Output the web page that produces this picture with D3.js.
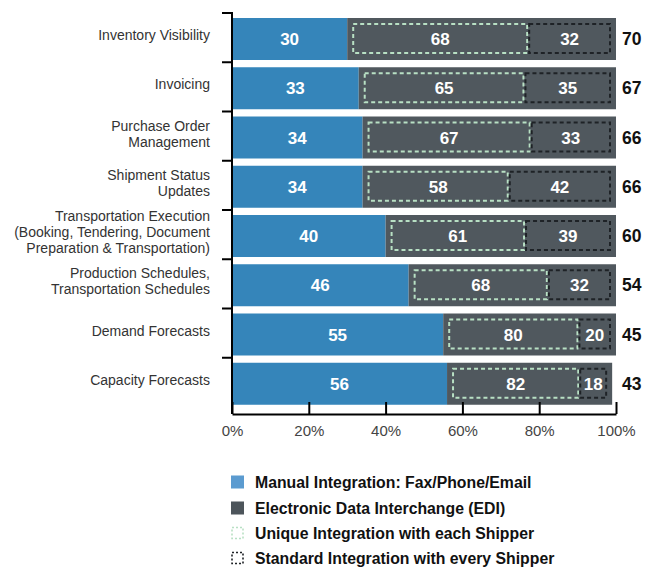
<!DOCTYPE html>
<html><head><meta charset="utf-8">
<script src="https://cdn.jsdelivr.net/npm/d3@7"></script>
<style>
html,body{margin:0;padding:0;background:#fff;}
svg{display:block;font-family:"Liberation Sans",Arial,sans-serif;}
</style></head>
<body>
<svg id="chart" width="654" height="568"></svg>
<script>
const categories = [
  ["Inventory Visibility"],
  ["Invoicing"],
  ["Purchase Order","Management"],
  ["Shipment Status","Updates"],
  ["Transportation Execution","(Booking, Tendering, Document","Preparation & Transportation)"],
  ["Production Schedules,","Transportation Schedules"],
  ["Demand Forecasts"],
  ["Capacity Forecasts"]
];
const manual   = [30,33,34,34,40,46,55,56];
const edi      = [70,67,66,66,60,54,45,43];
const unique   = [68,65,67,58,61,68,80,82];
const standard = [32,35,33,42,39,32,20,18];
const xTicks = [0,20,40,60,80,100];
const legendLabels = [
  "Manual Integration: Fax/Phone/Email",
  "Electronic Data Interchange (EDI)",
  "Unique Integration with each Shipper",
  "Standard Integration with every Shipper"
];

const svg = d3.select("#chart");
const x = d3.scaleLinear().domain([0,100]).range([232,616]);
const y = d3.scaleBand().domain(d3.range(categories.length)).range([13, 13+8*49.25]).paddingInner(0).paddingOuter(0);
const axisBottomY = 414;
const BLUE = "#3585ba", GRAY = "#50585e";
const barTop = i => y(i) + 5, barH = 42;

const rows = svg.append("g").selectAll("g").data(d3.range(categories.length)).join("g");

// manual bars
rows.append("rect").attr("x", x(0)).attr("y", barTop).attr("height", barH)
  .attr("width", i => x(manual[i]) - x(0)).attr("fill", BLUE);
// EDI bars
rows.append("rect").attr("x", i => x(manual[i])).attr("y", barTop).attr("height", barH)
  .attr("width", i => x(manual[i]+edi[i]) - x(manual[i])).attr("fill", GRAY);

// dashed boxes
function boxGeom(i){
  const s = x(manual[i]) + 5, e = x(manual[i]+edi[i]) - 5;
  const split = s + (e - s) * unique[i] / (unique[i] + standard[i]);
  return {s, e, split};
}
rows.append("rect")
  .attr("x", i => boxGeom(i).s + 1).attr("y", i => barTop(i) + 6)
  .attr("width", i => boxGeom(i).split - 1 - boxGeom(i).s - 1).attr("height", barH - 13)
  .attr("fill", "none").attr("stroke", "#b8e0c4").attr("stroke-width", 2).attr("stroke-dasharray", "4,3");
rows.append("rect")
  .attr("x", i => boxGeom(i).split + 1).attr("y", i => barTop(i) + 6)
  .attr("width", i => boxGeom(i).e - 1 - boxGeom(i).split - 1).attr("height", barH - 13)
  .attr("fill", "none").attr("stroke", "#1e2226").attr("stroke-width", 2).attr("stroke-dasharray", "4,3");

// value labels
const valStyle = sel => sel.attr("fill", "#fff").attr("font-weight", "bold").attr("font-size", 17).attr("text-anchor", "middle");
rows.append("text").call(valStyle)
  .attr("x", i => (x(0) + x(manual[i]))/2).attr("y", i => barTop(i) + barH/2 + 6).text(i => manual[i]);
rows.append("text").call(valStyle)
  .attr("x", i => (boxGeom(i).s + boxGeom(i).split)/2).attr("y", i => barTop(i) + barH/2 + 6).text(i => unique[i]);
rows.append("text").call(valStyle)
  .attr("x", i => (boxGeom(i).split + boxGeom(i).e)/2).attr("y", i => barTop(i) + barH/2 + 6).text(i => standard[i]);
// EDI totals
rows.append("text").attr("fill", "#111").attr("font-weight", "bold").attr("font-size", 17.5)
  .attr("x", 622).attr("y", i => barTop(i) + barH/2 + 6).text(i => edi[i]);

// category labels
rows.each(function(i){
  const lines = categories[i];
  const cy = y(i) + y.bandwidth()/2 - 2.5;
  const t = d3.select(this).append("text").attr("text-anchor", "end").attr("fill", "#333")
    .attr("font-size", 14);
  lines.forEach((ln, k) => {
    t.append("tspan").attr("x", 210).attr("y", cy + 5 - (lines.length-1)*8 + k*16).text(ln);
  });
});

// y axis
const yAxis = svg.append("g");
yAxis.append("line").attr("x1", x(0)).attr("x2", x(0)).attr("y1", 12).attr("y2", axisBottomY)
  .attr("stroke", "#000").attr("stroke-width", 2);
yAxis.selectAll("line.tick").data(d3.range(categories.length)).join("line").attr("class","tick")
  .attr("x1", x(0) - 10).attr("x2", x(0)).attr("y1", i => y(i)).attr("y2", i => y(i))
  .attr("stroke", "#000").attr("stroke-width", 2);

// x axis
const xAxis = svg.append("g").attr("transform", `translate(0,${axisBottomY})`)
  .call(d3.axisBottom(x).tickValues(xTicks).tickFormat(d => d + "%").tickSize(-12).tickSizeOuter(0).tickPadding(11));
xAxis.select(".domain").attr("stroke", "#000").attr("stroke-width", 2);
xAxis.selectAll(".tick line").attr("stroke", "#000").attr("stroke-width", 2);
xAxis.selectAll(".tick text").attr("font-size", 15).attr("fill", "#444")
  .attr("font-family", "Liberation Sans, Arial, sans-serif");

// legend
const legendY = [482, 508, 533, 558];
const lg = svg.append("g").selectAll("g").data(legendLabels).join("g")
  .attr("transform", (d,i) => `translate(231,${legendY[i]})`);
lg.each(function(d,i){
  const g = d3.select(this);
  if (i === 0) g.append("rect").attr("x",0).attr("y",-6.5).attr("width",13).attr("height",13).attr("fill","#5b9bd0");
  else if (i === 1) g.append("rect").attr("x",0).attr("y",-6.5).attr("width",13).attr("height",13).attr("fill","#4d555b");
  else g.append("rect").attr("x",1).attr("y",-5.5).attr("width",11).attr("height",11).attr("fill","none")
      .attr("stroke", i === 2 ? "#b8e0c4" : "#1e2226").attr("stroke-width", 1.6).attr("stroke-dasharray", "2,2");
  g.append("text").attr("x", 24).attr("y", 5.5).attr("font-size", 15.8).attr("font-weight", "bold")
    .attr("fill", "#111").text(d);
});
</script>
</body></html>
